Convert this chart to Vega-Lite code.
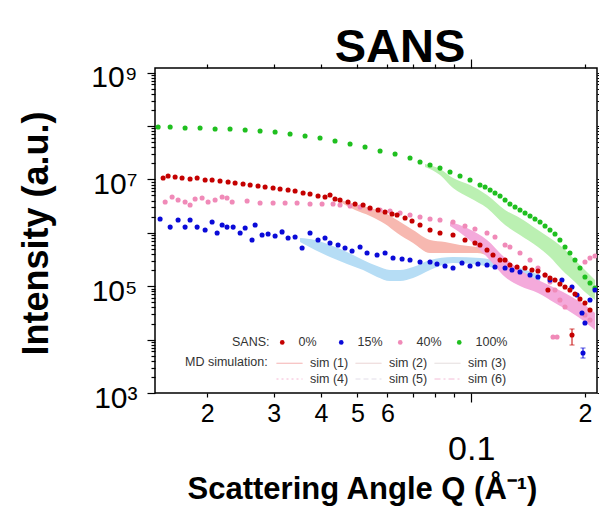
{
  "$schema": "https://vega.github.io/schema/vega-lite/v6.json",
  "autosize": "none",
  "padding": {"left": 155, "top": 68, "right": 2, "bottom": 114},
  "width": 442,
  "height": 325,
  "title": {"text": "SANS", "fontSize": 47, "font": "Liberation Sans", "fontWeight": "bold", "anchor": "middle", "dx": 24, "offset": -51, "baseline": "alphabetic", "color": "#000"},
  "config": {
    "font": "Liberation Sans",
    "view": {"stroke": "#000", "strokeWidth": 1.5},
    "axis": {"domain": false, "grid": false, "ticks": true, "tickColor": "#000", "labelColor": "#000", "titleColor": "#000", "tickWidth": 1.2},
    "legend": {"labelFont": "Liberation Sans", "titleFont": "Liberation Sans", "labelFontSize": 12.5, "titleFontSize": 12.5, "titleFontWeight": "normal", "labelColor": "#333", "titleColor": "#333"}
  },
  "datasets": {
    "pts": [
      {"q":0.01484,"I":9.58e7,"s":"100%"},{"q":0.01597,"I":9.58e7,"s":"100%"},{"q":0.01749,"I":9.18e7,"s":"100%"},{"q":0.01916,"I":9.18e7,"s":"100%"},{"q":0.0210,"I":8.79e7,"s":"100%"},{"q":0.0230,"I":8.79e7,"s":"100%"},{"q":0.02522,"I":8.42e7,"s":"100%"},{"q":0.02762,"I":8.06e7,"s":"100%"},{"q":0.03027,"I":7.72e7,"s":"100%"},{"q":0.03316,"I":7.08e7,"s":"100%"},{"q":0.03633,"I":6.50e7,"s":"100%"},{"q":0.0398,"I":5.96e7,"s":"100%"},{"q":0.04361,"I":5.24e7,"s":"100%"},{"q":0.04779,"I":4.60e7,"s":"100%"},{"q":0.05236,"I":4.05e7,"s":"100%"},{"q":0.05738,"I":3.40e7,"s":"100%"},{"q":0.06287,"I":2.99e7,"s":"100%"},{"q":0.06887,"I":2.52e7,"s":"100%"},{"q":0.0732,"I":2.12e7,"s":"100%"},{"q":0.0778,"I":1.86e7,"s":"100%"},{"q":0.08268,"I":1.63e7,"s":"100%"},{"q":0.08788,"I":1.38e7,"s":"100%"},{"q":0.0934,"I":1.16e7,"s":"100%"},{"q":0.09928,"I":9.75e6,"s":"100%"},{"q":0.1055,"I":7.85e6,"s":"100%"},{"q":0.1088,"I":7.20e6,"s":"100%"},{"q":0.1122,"I":6.33e6,"s":"100%"},{"q":0.1156,"I":5.56e6,"s":"100%"},{"q":0.1192,"I":4.89e6,"s":"100%"},{"q":0.1229,"I":4.11e6,"s":"100%"},{"q":0.1266,"I":3.46e6,"s":"100%"},{"q":0.1306,"I":3.04e6,"s":"100%"},{"q":0.1346,"I":2.67e6,"s":"100%"},{"q":0.1388,"I":2.35e6,"s":"100%"},{"q":0.1431,"I":2.07e6,"s":"100%"},{"q":0.1475,"I":1.81e6,"s":"100%"},{"q":0.1521,"I":1.59e6,"s":"100%"},{"q":0.1568,"I":1.34e6,"s":"100%"},{"q":0.1616,"I":1.13e6,"s":"100%"},{"q":0.1666,"I":9.5e5,"s":"100%"},{"q":0.1717,"I":7.33e5,"s":"100%"},{"q":0.1771,"I":5.42e5,"s":"100%"},{"q":0.1825,"I":4.19e5,"s":"100%"},{"q":0.1882,"I":3.10e5,"s":"100%"},{"q":0.194,"I":2.19e5,"s":"100%"},{"q":0.2,"I":1.49e5,"s":"100%"},{"q":0.2062,"I":1.15e5,"s":"100%"},{"q":0.2126,"I":9.25e4,"s":"100%"},

      {"q":0.01549,"I":3.78e6,"s":"40%"},{"q":0.01616,"I":4.68e6,"s":"40%"},{"q":0.01676,"I":4.11e6,"s":"40%"},{"q":0.01749,"I":3.78e6,"s":"40%"},{"q":0.01803,"I":3.32e6,"s":"40%"},{"q":0.01859,"I":4.30e6,"s":"40%"},{"q":0.0194,"I":4.48e6,"s":"40%"},{"q":0.02012,"I":3.78e6,"s":"40%"},{"q":0.0210,"I":4.11e6,"s":"40%"},{"q":0.02192,"I":4.68e6,"s":"40%"},{"q":0.02258,"I":4.48e6,"s":"40%"},{"q":0.0233,"I":3.78e6,"s":"40%"},{"q":0.02552,"I":3.94e6,"s":"40%"},{"q":0.02762,"I":3.61e6,"s":"40%"},{"q":0.0299,"I":3.61e6,"s":"40%"},{"q":0.03217,"I":3.61e6,"s":"40%"},{"q":0.0346,"I":3.61e6,"s":"40%"},{"q":0.03745,"I":3.46e6,"s":"40%"},{"q":0.0403,"I":3.46e6,"s":"40%"},{"q":0.04309,"I":3.46e6,"s":"40%"},{"q":0.04496,"I":3.32e6,"s":"40%"},{"q":0.04779,"I":3.18e6,"s":"40%"},{"q":0.0508,"I":3.04e6,"s":"40%"},{"q":0.05398,"I":2.79e6,"s":"40%"},{"q":0.05738,"I":2.67e6,"s":"40%"},{"q":0.06099,"I":2.56e6,"s":"40%"},{"q":0.06482,"I":2.35e6,"s":"40%"},{"q":0.06887,"I":2.15e6,"s":"40%"},{"q":0.0732,"I":1.98e6,"s":"40%"},{"q":0.0778,"I":1.81e6,"s":"40%"},{"q":0.08268,"I":1.74e6,"s":"40%"},{"q":0.0895,"I":1.59e6,"s":"40%"},{"q":0.09628,"I":1.34e6,"s":"40%"},{"q":0.1023,"I":1.18e6,"s":"40%"},{"q":0.1101,"I":9.91e5,"s":"40%"},{"q":0.1156,"I":8.34e5,"s":"40%"},{"q":0.1229,"I":5.91e5,"s":"40%"},{"q":0.1266,"I":5.42e5,"s":"40%"},{"q":0.1346,"I":4.19e5,"s":"40%"},{"q":0.1431,"I":3.10e5,"s":"40%"},{"q":0.1502,"I":2.19e5,"s":"40%"},{"q":0.1568,"I":1.62e5,"s":"40%"},{"q":0.1616,"I":1.20e5,"s":"40%"},{"q":0.1666,"I":8.49e4,"s":"40%"},{"q":0.1717,"I":5.52e4,"s":"40%"},{"q":0.1771,"I":4.08e4,"s":"40%"},{"q":0.1646,"I":1.12e4,"s":"40%"},{"q":0.1687,"I":1.12e4,"s":"40%"},{"q":0.2,"I":2.84e5,"s":"40%"},{"q":0.2062,"I":3.37e5,"s":"40%"},{"q":0.2126,"I":3.68e5,"s":"40%"},{"q":0.2,"I":2.89e4,"s":"40%"},{"q":0.2062,"I":2.33e4,"s":"40%"},

      {"q":0.01502,"I":1.81e6,"s":"15%"},{"q":0.01597,"I":1.28e6,"s":"15%"},{"q":0.01676,"I":1.74e6,"s":"15%"},{"q":0.01749,"I":1.28e6,"s":"15%"},{"q":0.01803,"I":1.74e6,"s":"15%"},{"q":0.01882,"I":1.28e6,"s":"15%"},{"q":0.01976,"I":1.13e6,"s":"15%"},{"q":0.02062,"I":1.59e6,"s":"15%"},{"q":0.02126,"I":9.91e5,"s":"15%"},{"q":0.02192,"I":1.40e6,"s":"15%"},{"q":0.02258,"I":1.28e6,"s":"15%"},{"q":0.02344,"I":1.28e6,"s":"15%"},{"q":0.02446,"I":9.91e5,"s":"15%"},{"q":0.02522,"I":1.23e6,"s":"15%"},{"q":0.0263,"I":7.33e5,"s":"15%"},{"q":0.0268,"I":1.40e6,"s":"15%"},{"q":0.02796,"I":9.1e5,"s":"15%"},{"q":0.029,"I":9.5e5,"s":"15%"},{"q":0.03027,"I":8.71e5,"s":"15%"},{"q":0.03158,"I":1.04e6,"s":"15%"},{"q":0.03276,"I":8.0e5,"s":"15%"},{"q":0.03419,"I":8.34e5,"s":"15%"},{"q":0.03568,"I":5.19e5,"s":"15%"},{"q":0.03745,"I":9.91e5,"s":"15%"},{"q":0.03932,"I":7.33e5,"s":"15%"},{"q":0.04103,"I":8.0e5,"s":"15%"},{"q":0.0423,"I":6.44e5,"s":"15%"},{"q":0.04442,"I":5.91e5,"s":"15%"},{"q":0.04635,"I":5.19e5,"s":"15%"},{"q":0.04838,"I":4.56e5,"s":"15%"},{"q":0.0508,"I":5.42e5,"s":"15%"},{"q":0.0530,"I":4.19e5,"s":"15%"},{"q":0.05634,"I":3.84e5,"s":"15%"},{"q":0.05916,"I":4.19e5,"s":"15%"},{"q":0.0621,"I":3.37e5,"s":"15%"},{"q":0.06562,"I":3.23e5,"s":"15%"},{"q":0.06887,"I":3.10e5,"s":"15%"},{"q":0.0732,"I":2.84e5,"s":"15%"},{"q":0.0778,"I":2.84e5,"s":"15%"},{"q":0.08118,"I":2.61e5,"s":"15%"},{"q":0.08524,"I":2.39e5,"s":"15%"},{"q":0.0895,"I":2.19e5,"s":"15%"},{"q":0.09454,"I":2.72e5,"s":"15%"},{"q":0.09928,"I":2.39e5,"s":"15%"},{"q":0.1042,"I":2.61e5,"s":"15%"},{"q":0.1101,"I":2.49e5,"s":"15%"},{"q":0.1156,"I":2.29e5,"s":"15%"},{"q":0.1229,"I":2.19e5,"s":"15%"},{"q":0.1282,"I":2.01e5,"s":"15%"},{"q":0.1346,"I":1.85e5,"s":"15%"},{"q":0.1431,"I":1.62e5,"s":"15%"},{"q":0.1502,"I":1.49e5,"s":"15%"},{"q":0.1616,"I":1.31e5,"s":"15%"},{"q":0.1738,"I":1.31e5,"s":"15%"},{"q":0.1848,"I":9.66e4,"s":"15%"},{"q":0.1905,"I":6.84e4,"s":"15%"},{"q":0.1964,"I":3.15e4,"s":"15%"},{"q":0.2,"I":2.05e4,"s":"15%"},{"q":0.2062,"I":5.52e4,"s":"15%"},{"q":0.2126,"I":8.49e4,"s":"15%"},{"q":0.1976,"I":5.61e3,"s":"15%"},

      {"q":0.0153,"I":1.06e7,"s":"0%"},{"q":0.01577,"I":1.16e7,"s":"0%"},{"q":0.01646,"I":1.11e7,"s":"0%"},{"q":0.01717,"I":1.06e7,"s":"0%"},{"q":0.01803,"I":1.016e7,"s":"0%"},{"q":0.01882,"I":1.06e7,"s":"0%"},{"q":0.01976,"I":9.75e6,"s":"0%"},{"q":0.02062,"I":9.75e6,"s":"0%"},{"q":0.02164,"I":9.33e6,"s":"0%"},{"q":0.02273,"I":8.94e6,"s":"0%"},{"q":0.02372,"I":8.57e6,"s":"0%"},{"q":0.0249,"I":8.20e6,"s":"0%"},{"q":0.0260,"I":7.85e6,"s":"0%"},{"q":0.02728,"I":7.52e6,"s":"0%"},{"q":0.02848,"I":7.20e6,"s":"0%"},{"q":0.0299,"I":6.90e6,"s":"0%"},{"q":0.0312,"I":6.61e6,"s":"0%"},{"q":0.03276,"I":6.33e6,"s":"0%"},{"q":0.03419,"I":6.07e6,"s":"0%"},{"q":0.0359,"I":5.56e6,"s":"0%"},{"q":0.03745,"I":5.33e6,"s":"0%"},{"q":0.03932,"I":4.89e6,"s":"0%"},{"q":0.04103,"I":4.68e6,"s":"0%"},{"q":0.0423,"I":5.10e6,"s":"0%"},{"q":0.04361,"I":4.30e6,"s":"0%"},{"q":0.04496,"I":4.11e6,"s":"0%"},{"q":0.0472,"I":3.78e6,"s":"0%"},{"q":0.04927,"I":3.46e6,"s":"0%"},{"q":0.05174,"I":3.32e6,"s":"0%"},{"q":0.05398,"I":2.91e6,"s":"0%"},{"q":0.05668,"I":2.67e6,"s":"0%"},{"q":0.05916,"I":2.45e6,"s":"0%"},{"q":0.06172,"I":2.25e6,"s":"0%"},{"q":0.06364,"I":2.15e6,"s":"0%"},{"q":0.06683,"I":1.89e6,"s":"0%"},{"q":0.06972,"I":1.66e6,"s":"0%"},{"q":0.0732,"I":1.40e6,"s":"0%"},{"q":0.0778,"I":1.13e6,"s":"0%"},{"q":0.08268,"I":9.91e5,"s":"0%"},{"q":0.0895,"I":9.1e5,"s":"0%"},{"q":0.09628,"I":7.33e5,"s":"0%"},{"q":0.1023,"I":6.44e5,"s":"0%"},{"q":0.1055,"I":5.91e5,"s":"0%"},{"q":0.1101,"I":4.76e5,"s":"0%"},{"q":0.1142,"I":3.84e5,"s":"0%"},{"q":0.1192,"I":3.10e5,"s":"0%"},{"q":0.1229,"I":3.10e5,"s":"0%"},{"q":0.1266,"I":2.49e5,"s":"0%"},{"q":0.1322,"I":2.29e5,"s":"0%"},{"q":0.1388,"I":2.19e5,"s":"0%"},{"q":0.1448,"I":2.01e5,"s":"0%"},{"q":0.1502,"I":1.93e5,"s":"0%"},{"q":0.1568,"I":1.62e5,"s":"0%"},{"q":0.1596,"I":8.49e4,"s":"0%"},{"q":0.1616,"I":1.42e5,"s":"0%"},{"q":0.1666,"I":1.31e5,"s":"0%"},{"q":0.1717,"I":1.10e5,"s":"0%"},{"q":0.1771,"I":9.66e4,"s":"0%"},{"q":0.1825,"I":8.49e4,"s":"0%"},{"q":0.1882,"I":7.14e4,"s":"0%"},{"q":0.194,"I":5.76e4,"s":"0%"},{"q":0.2,"I":4.84e4,"s":"0%"},{"q":0.2062,"I":3.58e4,"s":"0%"},{"q":0.1848,"I":1.22e4,"s":"0%"}
    ],
    "bands": [
      {"q":0.04496,"lo":3.78e6,"hi":4.11e6,"b":"0%"},{"q":0.04927,"lo":2.67e6,"hi":3.46e6,"b":"0%"},{"q":0.05398,"lo":2.07e6,"hi":2.91e6,"b":"0%"},{"q":0.05916,"lo":1.46e6,"hi":2.35e6,"b":"0%"},{"q":0.06364,"lo":9.91e5,"hi":1.74e6,"b":"0%"},{"q":0.07016,"lo":6.44e5,"hi":1.13e6,"b":"0%"},{"q":0.0778,"lo":4.19e5,"hi":7.33e5,"b":"0%"},{"q":0.08524,"lo":4.19e5,"hi":6.73e5,"b":"0%"},{"q":0.0934,"lo":4.19e5,"hi":5.91e5,"b":"0%"},{"q":0.1036,"lo":4.19e5,"hi":5.42e5,"b":"0%"},{"q":0.1122,"lo":3.68e5,"hi":4.76e5,"b":"0%"},{"q":0.1192,"lo":3.37e5,"hi":3.84e5,"b":"0%"},
      {"q":0.03524,"lo":6.73e5,"hi":8.0e5,"b":"15%"},{"q":0.03861,"lo":4.76e5,"hi":7.33e5,"b":"15%"},{"q":0.0423,"lo":3.52e5,"hi":5.91e5,"b":"15%"},{"q":0.04692,"lo":2.61e5,"hi":4.37e5,"b":"15%"},{"q":0.05174,"lo":2.01e5,"hi":3.10e5,"b":"15%"},{"q":0.05634,"lo":1.49e5,"hi":2.39e5,"b":"15%"},{"q":0.06099,"lo":1.25e5,"hi":2.01e5,"b":"15%"},{"q":0.06482,"lo":1.25e5,"hi":2.01e5,"b":"15%"},{"q":0.07016,"lo":1.42e5,"hi":2.29e5,"b":"15%"},{"q":0.0778,"lo":2.01e5,"hi":3.10e5,"b":"15%"},{"q":0.0895,"lo":2.72e5,"hi":3.52e5,"b":"15%"},{"q":0.1055,"lo":2.49e5,"hi":3.37e5,"b":"15%"},{"q":0.1192,"lo":2.01e5,"hi":2.84e5,"b":"15%"},{"q":0.1346,"lo":1.42e5,"hi":2.19e5,"b":"15%"},{"q":0.1521,"lo":1.05e5,"hi":1.62e5,"b":"15%"},
      {"q":0.08788,"lo":1.34e6,"hi":1.59e6,"b":"40%"},{"q":0.09746,"lo":8.0e5,"hi":1.23e6,"b":"40%"},{"q":0.1101,"lo":3.52e5,"hi":7.33e5,"b":"40%"},{"q":0.1229,"lo":1.49e5,"hi":3.37e5,"b":"40%"},{"q":0.1346,"lo":1.01e5,"hi":2.01e5,"b":"40%"},{"q":0.1502,"lo":7.46e4,"hi":1.31e5,"b":"40%"},{"q":0.1666,"lo":4.84e4,"hi":9.25e4,"b":"40%"},{"q":0.1848,"lo":3.15e4,"hi":6.28e4,"b":"40%"},{"q":0.2,"lo":2.14e4,"hi":4.44e4,"b":"40%"},{"q":0.2126,"lo":1.51e4,"hi":3.15e4,"b":"40%"},
      {"q":0.07546,"lo":1.71e7,"hi":1.94e7,"b":"100%"},{"q":0.08268,"lo":1.21e7,"hi":1.57e7,"b":"100%"},{"q":0.0895,"lo":6.90e6,"hi":1.06e7,"b":"100%"},{"q":0.09928,"lo":4.48e6,"hi":7.85e6,"b":"100%"},{"q":0.1101,"lo":2.91e6,"hi":5.10e6,"b":"100%"},{"q":0.1229,"lo":1.40e6,"hi":2.67e6,"b":"100%"},{"q":0.1346,"lo":9.1e5,"hi":1.89e6,"b":"100%"},{"q":0.1502,"lo":5.42e5,"hi":1.13e6,"b":"100%"},{"q":0.1616,"lo":3.52e5,"hi":8.0e5,"b":"100%"},{"q":0.1738,"lo":2.01e5,"hi":5.42e5,"b":"100%"},{"q":0.1882,"lo":1.20e5,"hi":3.10e5,"b":"100%"},{"q":0.2,"lo":7.79e4,"hi":2.01e5,"b":"100%"},{"q":0.2126,"lo":5.52e4,"hi":1.31e5,"b":"100%"}
    ],
    "sims": [
      {"q":0.04496,"I":3.94e6,"sim":"sim (1)"},{"q":0.04927,"I":3.04e6,"sim":"sim (1)"},{"q":0.05398,"I":2.45e6,"sim":"sim (1)"},{"q":0.05916,"I":1.85e6,"sim":"sim (1)"},{"q":0.06364,"I":1.31e6,"sim":"sim (1)"},{"q":0.07016,"I":8.5e5,"sim":"sim (1)"},{"q":0.0778,"I":5.5e5,"sim":"sim (1)"},{"q":0.08524,"I":5.3e5,"sim":"sim (1)"},{"q":0.0934,"I":4.98e5,"sim":"sim (1)"},{"q":0.1036,"I":4.77e5,"sim":"sim (1)"},{"q":0.1122,"I":4.19e5,"sim":"sim (1)"},{"q":0.1192,"I":3.6e5,"sim":"sim (1)"},
      {"q":0.03524,"I":7.33e5,"sim":"sim (2)"},{"q":0.03861,"I":5.9e5,"sim":"sim (2)"},{"q":0.0423,"I":4.56e5,"sim":"sim (2)"},{"q":0.04692,"I":3.38e5,"sim":"sim (2)"},{"q":0.05174,"I":2.5e5,"sim":"sim (2)"},{"q":0.05634,"I":1.89e5,"sim":"sim (2)"},{"q":0.06099,"I":1.59e5,"sim":"sim (2)"},{"q":0.06482,"I":1.59e5,"sim":"sim (2)"},{"q":0.07016,"I":1.8e5,"sim":"sim (2)"},{"q":0.0778,"I":2.5e5,"sim":"sim (2)"},{"q":0.0895,"I":3.1e5,"sim":"sim (2)"},{"q":0.1055,"I":2.9e5,"sim":"sim (2)"},{"q":0.1192,"I":2.4e5,"sim":"sim (2)"},{"q":0.1346,"I":1.76e5,"sim":"sim (2)"},{"q":0.1521,"I":1.3e5,"sim":"sim (2)"},
      {"q":0.07546,"I":1.82e7,"sim":"sim (3)"},{"q":0.08268,"I":1.38e7,"sim":"sim (3)"},{"q":0.0895,"I":8.5e6,"sim":"sim (3)"},{"q":0.09928,"I":5.9e6,"sim":"sim (3)"},{"q":0.1101,"I":3.85e6,"sim":"sim (3)"},{"q":0.1229,"I":1.93e6,"sim":"sim (3)"},{"q":0.1346,"I":1.3e6,"sim":"sim (3)"},{"q":0.1502,"I":7.8e5,"sim":"sim (3)"},{"q":0.1616,"I":5.3e5,"sim":"sim (3)"},{"q":0.1738,"I":3.3e5,"sim":"sim (3)"},{"q":0.1882,"I":1.93e5,"sim":"sim (3)"},{"q":0.2,"I":1.25e5,"sim":"sim (3)"},{"q":0.2126,"I":8.5e4,"sim":"sim (3)"},
      {"q":0.08788,"I":1.46e6,"sim":"sim (4)"},{"q":0.09746,"I":9.9e5,"sim":"sim (4)"},{"q":0.1101,"I":5.08e5,"sim":"sim (4)"},{"q":0.1229,"I":2.24e5,"sim":"sim (4)"},{"q":0.1346,"I":1.42e5,"sim":"sim (4)"},{"q":0.1502,"I":9.9e4,"sim":"sim (4)"},{"q":0.1666,"I":6.7e4,"sim":"sim (4)"},{"q":0.1848,"I":4.45e4,"sim":"sim (4)"},{"q":0.2,"I":3.08e4,"sim":"sim (4)"},{"q":0.2126,"I":2.18e4,"sim":"sim (4)"},
      {"q":0.03524,"I":7.5e5,"sim":"sim (5)"},{"q":0.0423,"I":4.7e5,"sim":"sim (5)"},{"q":0.05174,"I":2.6e5,"sim":"sim (5)"},{"q":0.06099,"I":1.65e5,"sim":"sim (5)"},{"q":0.07016,"I":1.85e5,"sim":"sim (5)"},{"q":0.0895,"I":3.2e5,"sim":"sim (5)"},{"q":0.1192,"I":2.5e5,"sim":"sim (5)"},{"q":0.1521,"I":1.35e5,"sim":"sim (5)"},
      {"q":0.09746,"I":9.5e5,"sim":"sim (6)"},{"q":0.1229,"I":2.15e5,"sim":"sim (6)"},{"q":0.1502,"I":9.5e4,"sim":"sim (6)"},{"q":0.1848,"I":4.3e4,"sim":"sim (6)"},{"q":0.2126,"I":2.1e4,"sim":"sim (6)"}
    ],
    "errs": [
      {"q":0.1848,"lo":7.92e3,"hi":1.58e4,"s":"0%"},
      {"q":0.1976,"lo":4.52e3,"hi":6.96e3,"s":"15%"}
    ]
  },
  "resolve": {"axis": {"x": "independent", "y": "independent"}},
  "layer": [
    {
      "data": {"name": "sims"},
      "mark": {"type": "line", "strokeWidth": 1, "interpolate": "monotone", "clip": true},
      "encoding": {
        "x": {"field": "q", "type": "quantitative", "scale": {"type": "log", "domain": [0.01456, 0.2152], "nice": false, "zero": false},
          "axis": {"orient": "bottom", "values": [0.02, 0.03, 0.04, 0.05, 0.06, 0.07, 0.08, 0.09, 0.1, 0.2],
            "labelExpr": "datum.value == 0.1 ? '0.1' : (datum.value == 0.07 || datum.value == 0.08 || datum.value == 0.09) ? '' : datum.value == 0.2 ? '2' : format(datum.value * 100, '.0f')",
            "labelFontSize": {"condition": {"test": "datum.value == 0.1", "value": 34}, "value": 25},
            "labelPadding": {"condition": {"test": "datum.value == 0.1", "value": 30}, "value": 4},
            "tickSize": {"condition": {"test": "datum.value == 0.1", "value": 9}, "value": 4},
            "labelFlush": false, "labelOverlap": false, "labelBound": false,
            "title": "Scattering Angle Q (Å⁻¹)", "titleFontSize": 31, "titleFontWeight": "bold", "titleX": 207, "titleY": 105, "titleBaseline": "alphabetic", "titleAlign": "center"}},
        "y": {"field": "I", "type": "quantitative", "scale": {"type": "log", "domain": [1000, 1.22e9], "nice": false, "zero": false},
          "axis": {"orient": "left",
            "values": [1000, 2000, 3000, 4000, 5000, 6000, 7000, 8000, 9000, 10000, 20000, 30000, 40000, 50000, 60000, 70000, 80000, 90000, 100000, 200000, 300000, 400000, 500000, 600000, 700000, 800000, 900000, 1000000, 2000000, 3000000, 4000000, 5000000, 6000000, 7000000, 8000000, 9000000, 10000000, 20000000, 30000000, 40000000, 50000000, 60000000, 70000000, 80000000, 90000000, 100000000, 200000000, 300000000, 400000000, 500000000, 600000000, 700000000, 800000000, 900000000, 1000000000],
            "labelExpr": "datum.value == 1000 ? '10³' : datum.value == 100000 ? '10⁵' : datum.value == 10000000 ? '10⁷' : datum.value == 1000000000 ? '10⁹' : ''",
            "tickSize": {"condition": {"test": "indexof([1000, 10000, 100000, 1000000, 10000000, 100000000, 1000000000], datum.value) >= 0", "value": 8}, "value": 4},
            "labelFontSize": 30, "labelPadding": 10, "labelOffset": 5, "labelOverlap": false, "labelFlush": false, "labelBound": false,
            "title": "Intensity (a.u.)", "titleFontSize": 36, "titleFontWeight": "bold", "titleX": -108, "titleY": 165, "titleAngle": -90, "titleBaseline": "alphabetic", "titleAlign": "center"}},
        "stroke": {"field": "sim", "type": "nominal",
          "scale": {"domain": ["sim (1)", "sim (2)", "sim (3)", "sim (4)", "sim (5)", "sim (6)"], "range": ["#f2a3a3", "#e6cccc", "#e0d6d6", "#f4b6d2", "#e2dde8", "#f3bcd6"]},
          "legend": {"title": "MD simulation:", "orient": "none", "legendX": 30, "legendY": 288, "direction": "horizontal", "columns": 3, "titleOrient": "left", "titleAnchor": "start", "symbolType": "M-2,0H2", "symbolSize": 169, "symbolStrokeWidth": 1, "labelOffset": 13.5, "columnPadding": 5, "rowPadding": 2, "titlePadding": 14.5}},
        "strokeDash": {"field": "sim", "type": "nominal",
          "scale": {"domain": ["sim (1)", "sim (2)", "sim (3)", "sim (4)", "sim (5)", "sim (6)"], "range": [[1, 0], [1, 0], [1, 0], [2, 3], [5, 3], [6, 3, 2, 3]]},
          "legend": {"title": "MD simulation:", "orient": "none", "legendX": 30, "legendY": 288, "direction": "horizontal", "columns": 3, "titleOrient": "left", "titleAnchor": "start", "symbolType": "M-2,0H2", "symbolSize": 169, "symbolStrokeWidth": 1, "labelOffset": 13.5, "columnPadding": 5, "rowPadding": 2, "titlePadding": 14.5}}
      }
    },
    {
      "data": {"name": "bands"},
      "mark": {"type": "area", "interpolate": "monotone", "opacity": 1, "clip": true},
      "encoding": {
        "x": {"field": "q", "type": "quantitative", "scale": {"type": "log", "domain": [0.01456, 0.2152], "nice": false, "zero": false}, "axis": null},
        "y": {"field": "lo", "type": "quantitative", "scale": {"type": "log", "domain": [1000, 1.22e9], "nice": false, "zero": false}, "axis": null},
        "y2": {"field": "hi"},
        "color": {"field": "b", "type": "nominal", "scale": {"domain": ["15%", "0%", "40%", "100%"], "range": ["#b6ddf5", "#f7b8b0", "#f4aadb", "#bbf0b2"]}, "legend": null}
      }
    },
    {
      "data": {"name": "pts"},
      "mark": {"type": "circle", "size": 26, "opacity": 1, "clip": true},
      "encoding": {
        "x": {"field": "q", "type": "quantitative", "scale": {"type": "log", "domain": [0.01456, 0.2152], "nice": false, "zero": false},
          "axis": {"orient": "top", "values": [0.02, 0.03, 0.04, 0.05, 0.06, 0.07, 0.08, 0.09, 0.1, 0.2], "labels": false, "title": null,
            "tickSize": {"condition": {"test": "datum.value == 0.1", "value": 9}, "value": 4}}},
        "y": {"field": "I", "type": "quantitative", "scale": {"type": "log", "domain": [1000, 1.22e9], "nice": false, "zero": false},
          "axis": {"orient": "right", "labels": false, "title": null,
            "values": [1000, 2000, 3000, 4000, 5000, 6000, 7000, 8000, 9000, 10000, 20000, 30000, 40000, 50000, 60000, 70000, 80000, 90000, 100000, 200000, 300000, 400000, 500000, 600000, 700000, 800000, 900000, 1000000, 2000000, 3000000, 4000000, 5000000, 6000000, 7000000, 8000000, 9000000, 10000000, 20000000, 30000000, 40000000, 50000000, 60000000, 70000000, 80000000, 90000000, 100000000, 200000000, 300000000, 400000000, 500000000, 600000000, 700000000, 800000000, 900000000, 1000000000],
            "tickSize": {"condition": {"test": "indexof([1000, 10000, 100000, 1000000, 10000000, 100000000, 1000000000], datum.value) >= 0", "value": 8}, "value": 4}}},
        "fill": {"field": "s", "type": "nominal", "sort": null,
          "scale": {"domain": ["0%", "15%", "40%", "100%"], "range": ["#c40000", "#0a0ad8", "#f08ab8", "#1fbf1f"]},
          "legend": {"title": "SANS:", "orient": "none", "legendX": 77, "legendY": 268, "direction": "horizontal", "columns": 4, "gridAlign": "all", "titleOrient": "left", "titleAnchor": "start", "symbolType": "circle", "symbolSize": 22, "symbolStrokeWidth": 0, "labelOffset": 10, "columnPadding": 4, "titlePadding": 6}}
      }
    },
    {
      "data": {"name": "errs"},
      "transform": [{"filter": "datum.s == '0%'"}],
      "mark": {"type": "errorbar", "ticks": true, "color": "#c40000"},
      "encoding": {
        "x": {"field": "q", "type": "quantitative", "scale": {"type": "log", "domain": [0.01456, 0.2152], "nice": false, "zero": false}, "axis": null},
        "y": {"field": "lo", "type": "quantitative", "scale": {"type": "log", "domain": [1000, 1.22e9], "nice": false, "zero": false}, "axis": null},
        "y2": {"field": "hi"}
      }
    },
    {
      "data": {"name": "errs"},
      "transform": [{"filter": "datum.s == '15%'"}],
      "mark": {"type": "errorbar", "ticks": true, "color": "#0a0ad8"},
      "encoding": {
        "x": {"field": "q", "type": "quantitative", "scale": {"type": "log", "domain": [0.01456, 0.2152], "nice": false, "zero": false}, "axis": null},
        "y": {"field": "lo", "type": "quantitative", "scale": {"type": "log", "domain": [1000, 1.22e9], "nice": false, "zero": false}, "axis": null},
        "y2": {"field": "hi"}
      }
    }
  ]
}
